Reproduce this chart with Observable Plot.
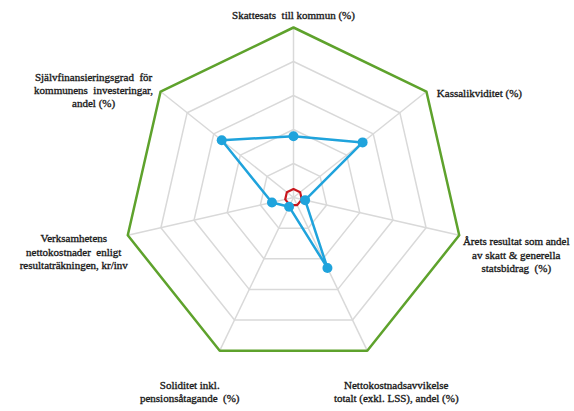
<!DOCTYPE html>
<html>
<head>
<meta charset="utf-8">
<script src="https://cdn.jsdelivr.net/npm/d3@7"></script>
<script src="https://cdn.jsdelivr.net/npm/@observablehq/plot@0.6"></script>
<style>
  html, body { margin: 0; padding: 0; background: #fff; }
  #chart svg { display: block; }
</style>
</head>
<body>
<div id="chart"></div>
<script>
// ---- data ----
const axisLabels = [
  "Skattesats  till kommun (%)",
  "Kassalikviditet (%)",
  "Årets resultat som andel\nav skatt & generella\nstatsbidrag  (%)",
  "Nettokostnadsavvikelse\ntotalt (exkl. LSS), andel (%)",
  "Soliditet inkl.\npensionsåtagande  (%)",
  "Verksamhetens\nnettokostnader  enligt\nresultaträkningen, kr/inv",
  "Självfinansieringsgrad  för\nkommunens  investeringar,\nandel (%)"
];
const seriesValues = [36, 52, 7, 46, 6, 13, 54];
const referenceValues = [5, 5, 5, 5, 5, 5, 5];
const gridLevels = [20, 40, 60, 80];
const maxLevel = 100;

// ---- layout ----
const W = 574, H = 411;
const cx = 293, cy = 197, Rpx = 170;   // pixel centre and radius
const k = Rpx / maxLevel;               // px per unit
const labelOffsets = [[0,-13],[53,1],[57,19],[29,41],[-30,41],[-54,16],[-67,-2]]; // px from vertex

const n = axisLabels.length;
const ang = i => 2 * Math.PI * i / n;
const px = (i, r) => r * Math.sin(ang(i));
const py = (i, r) => r * Math.cos(ang(i));

const ring = level => axisLabels.map((_, i) => ({x: px(i, level), y: py(i, level), level}));
const gridPts = gridLevels.flatMap(ring);
const outerPts = ring(maxLevel);
const refPts = referenceValues.map((v, i) => ({x: px(i, v), y: py(i, v)}));
const seriesPts = seriesValues.map((v, i) => ({x: px(i, v), y: py(i, v), v}));
const spokes = axisLabels.map((_, i) => ({x1: 0, y1: 0, x2: px(i, maxLevel), y2: py(i, maxLevel)}));
const labelPts = axisLabels.map((t, i) => ({
  t,
  x: px(i, maxLevel) + labelOffsets[i][0] / k,
  y: py(i, maxLevel) - labelOffsets[i][1] / k
}));

const chart = Plot.plot({
  width: W, height: H,
  margin: 0,
  x: {domain: [-cx / k, (W - cx) / k], range: [0, W], axis: null},
  y: {domain: [-(H - cy) / k, cy / k], range: [H, 0], axis: null},
  style: {background: "#fff"},
  marks: [
    Plot.link(spokes, {x1: "x1", y1: "y1", x2: "x2", y2: "y2", stroke: "#d9d9d9", strokeWidth: 1.5}),
    Plot.line(gridPts, {x: "x", y: "y", z: "level", curve: "linear-closed", stroke: "#d9d9d9", strokeWidth: 1.5}),
    Plot.line(outerPts, {x: "x", y: "y", curve: "linear-closed", stroke: "#5ea22c", strokeWidth: 2.5}),
    Plot.line(refPts, {x: "x", y: "y", curve: "linear-closed", stroke: "#c8161d", strokeWidth: 2.2}),
    Plot.line(seriesPts, {x: "x", y: "y", curve: "linear-closed", stroke: "#1fa3dc", strokeWidth: 2.5}),
    Plot.dot(seriesPts, {x: "x", y: "y", r: 5, fill: "#1fa3dc", stroke: "none"}),
    Plot.text(labelPts, {x: "x", y: "y", text: "t", textAnchor: "middle", lineHeight: 1.2,
      fontSize: 11, fontWeight: "normal", fontFamily: "Liberation Serif",
      fill: "#1a1a1a", stroke: "#1a1a1a", strokeWidth: 0.35})
  ]
});
document.getElementById("chart").appendChild(chart);
</script>
</body>
</html>
